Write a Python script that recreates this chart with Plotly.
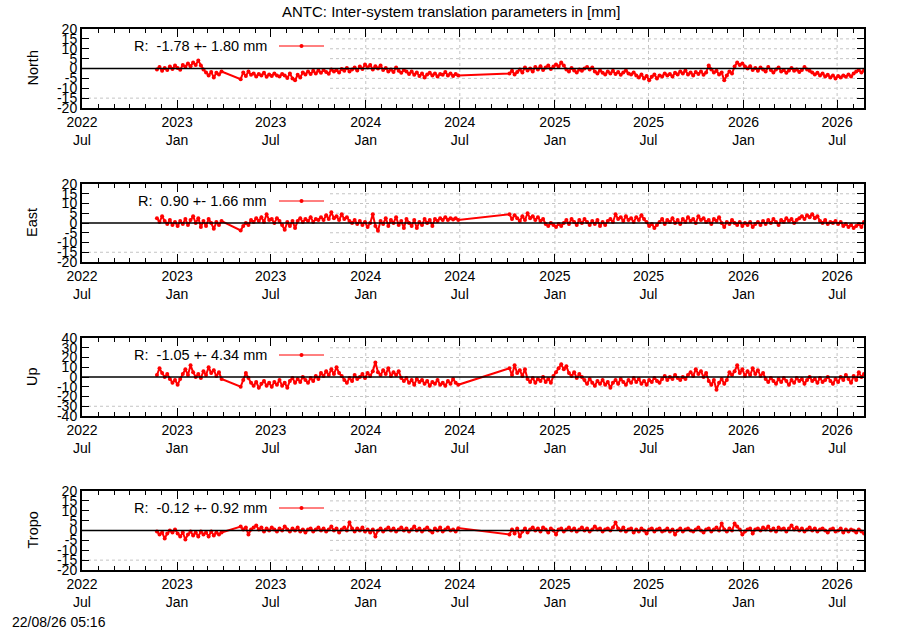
import pandas as pd
import plotly.graph_objects as go

# ---------------- data (mm) ----------------
seg_bounds = [("2022-11-23", "2023-03-28"), ("2023-05-04", "2024-06-28"), ("2024-10-05", "2026-08-22")]

north_s1 = [-0.5, 0.8, -1.2, 0.3, -0.8, 1.0, -0.2, 1.5, 0.2, -0.6, 1.8, 0.9, 2.5, 1.2, 3.0, 1.8, 4.0, 1.5, -0.5, -2.0,
            -3.5, -1.8, -4.5, -2.2, -3.0, -1.5]
north_s2 = [-5.4, -2.0, -3.8, -1.5, -3.2, -2.5, -4.0, -2.8, -3.5, -2.2, -4.2, -3.0, -3.8, -2.5, -3.6, -4.0, -2.8, -3.5,
            -4.8, -2.5, -5.0, -6.0, -3.2, -4.5, -2.0, -3.0, -1.5, -2.8, -1.2, -2.5, -1.0, -2.2, -0.8, -1.8, -2.6, -0.5,
            -1.5, -0.8, -2.0, -0.3, -1.2, 0.3, -1.5, -0.5, 0.5, -1.0, 1.0, -0.2, 2.0, 0.5, 1.8, -0.5, 1.2, 0.0, 1.5,
            -0.8, 0.2, -1.5, -0.5, -1.8, 0.5, -1.2, -2.2, -0.8, -1.5, -2.8, -1.5, -3.2, -2.0, -3.8, -2.5, -4.5, -3.0,
            -2.2, -3.5, -2.5, -4.0, -2.8, -3.2, -1.8, -3.5, -2.5, -3.8, -2.8, -3.5]
north_s3 = [-2.5, -1.2, -3.0, -1.8, -0.5, -2.0, 0.5, -1.0, 0.0, -1.5, 0.8, -0.5, 1.2, -0.8, 0.5, 1.5, -0.3, 1.0, 2.0,
            1.0, 3.0, 1.5, -0.5, -1.5, 0.2, -1.0, -2.0, -0.5, -1.2, 0.0, 0.8, -0.5, 0.5, -1.5, -2.5, -1.0, -2.2, -3.0,
            -1.5, -2.5, -1.2, -2.8, -1.8, -3.2, -2.0, -1.0, -2.5, -3.0, -2.0, -3.5, -4.5, -3.0, -5.0, -3.8, -6.0, -4.2,
            -3.0, -5.0, -3.5, -4.0, -2.5, -3.5, -2.8, -4.0, -2.2, -3.0, -1.5, -2.5, -1.0, -3.0, -2.0, -3.5, -1.8, -2.8,
            -1.5, -3.2, -2.0, 1.5, -0.5, -2.0, -1.2, -3.0, -2.0, -6.0, -3.5, -1.5, -2.5, 1.0, 3.0, 1.8, 2.5, 1.0, 0.0,
            1.2, -0.8, 0.3, -1.2, 0.5, -0.5, -1.5, 0.8, -0.8, -2.0, -0.5, 0.5, -1.5, -0.8, -2.2, -1.0, 0.2, -1.2, -0.5,
            -1.8, -0.8, 0.8, -0.5, -1.2, -2.0, -3.0, -2.2, -3.5, -2.5, -4.0, -3.2, -4.5, -3.5, -5.0, -3.8, -4.5, -3.5,
            -4.2, -3.0, -4.0, -2.5, -1.5, -0.8, -2.0, -1.0]

east_s1 = [2.5, 0.5, 3.5, 1.0, -0.5, 1.5, -1.0, 0.5, -1.5, 1.0, -0.5, 2.0, -1.0, 1.5, 3.5, 0.0, 2.5, -2.0, 1.0, -1.5,
           2.0, 0.0, -3.0, 0.5, -1.0, 1.0]
east_s2 = [-3.8, -1.5, 0.0, -1.0, 1.5, 0.5, 2.5, 1.0, 3.0, 0.5, 4.5, 1.5, 2.0, 0.0, 2.5, 1.0, -1.0, -3.5, 0.5, -1.5,
           1.0, -2.5, 1.0, 2.5, 0.5, 2.0, 1.0, 3.0, 0.5, 2.0, 1.5, 3.0, 1.5, 4.0, 2.0, 5.5, 2.5, 3.5, 1.5, 4.5, 2.0,
           3.0, 1.0, 0.0, 1.5, -0.5, 1.0, -1.0, 0.5, -2.0, 0.0, 4.5, -1.5, -4.0, 1.0, -0.5, 2.5, -1.5, 1.5, 0.0, 3.0,
           -1.0, 1.0, -2.5, 2.0, 0.0, -1.5, 1.5, -2.5, 0.5, -1.0, 2.0, 0.0, 1.5, -1.5, 2.0, 1.0, 2.5, 1.5, 3.0, 1.5,
           2.5, 1.8, 2.5, 1.5]
east_s3 = [4.5, 2.0, 4.0, 2.5, 1.0, 3.5, 1.5, 5.0, 2.5, 3.5, 1.5, 3.0, 1.0, 2.0, -0.5, -1.5, 0.0, -1.0, -2.0, -0.5,
           -1.5, 0.0, 1.5, -0.5, 2.0, 0.5, -1.0, 1.5, 0.0, 2.0, 0.5, -1.0, 1.0, -0.5, 1.5, -1.5, 0.5, -1.0, 1.0, 2.0,
           0.5, 4.5, 2.0, 3.0, 1.0, 3.5, 1.5, 2.5, 0.5, 3.0, 1.5, 4.0, 2.0, 0.5, -1.5, -0.5, -2.5, -1.0, 0.5, 2.0,
           -0.5, 1.5, 0.5, 2.5, 0.0, 1.5, -0.5, 2.0, 0.5, 3.0, 1.0, 2.0, 0.0, 3.5, 1.5, 2.5, 0.5, 1.5, -0.5, 2.0, 1.0,
           3.0, 0.0, -2.0, 0.5, -0.5, 1.5, 0.0, -1.0, 0.5, -1.5, 0.0, -1.0, 0.5, -2.0, -0.5, 0.5, -1.0, 1.0, -0.5,
           1.5, 0.0, 2.0, 0.5, -1.0, 1.5, 0.5, 2.5, 1.0, 2.0, 0.0, 1.5, 2.5, 3.5, 2.0, 4.0, 3.0, 4.5, 2.5, 3.5, 1.0,
           0.0, 1.5, -0.5, 0.5, 0.0, 1.0, -0.5, 0.5, -1.5, -0.5, -2.0, -1.0, -2.5, -1.5, -0.5, -2.0, 0.5]

up_s1 = [2.0, 9.0, 4.0, 0.0, 3.0, -2.0, -6.0, -3.0, -8.0, -2.0, 3.0, 8.0, 2.0, 12.0, 5.0, 0.0, 3.0, -1.0, 6.0, 2.0,
         10.0, 4.0, 7.0, 1.0, 5.0, -2.0]
up_s2 = [-10.0, -3.0, 4.0, -1.0, -6.0, -9.0, -5.0, -11.0, -7.0, -4.0, -9.0, -6.0, -10.0, -5.0, -8.0, -3.0, -9.0, -6.0,
         -11.0, -4.0, -1.0, -6.0, -2.0, -5.0, 0.0, -3.0, -6.0, -1.0, -4.0, 1.0, -2.0, 4.0, 1.0, 6.0, 2.0, 8.0, 3.0,
         10.0, 4.0, 1.0, -3.0, -6.0, -1.0, -4.0, 2.0, -2.0, 0.0, 3.0, -1.0, 4.0, 1.0, 6.0, 15.0, 5.0, 2.0, 7.0, 3.0,
         9.0, 1.0, 5.0, 2.0, 6.0, -1.0, -4.0, -1.0, -6.0, -3.0, -8.0, -2.0, -5.0, -3.0, -7.0, -4.0, -9.0, -5.0, -7.0,
         -3.0, -8.0, -6.0, -9.0, -4.0, -7.0, -2.0, -6.0, -8.0]
up_s3 = [9.0, 2.0, 12.0, 4.0, 7.0, 1.0, 8.0, -2.0, -5.0, -1.0, -6.0, -2.0, -4.0, 0.0, -5.0, -2.0, -6.0, 1.0, 5.0, 9.0,
         13.0, 8.0, 11.0, 4.0, 1.0, 5.0, -1.0, 3.0, 0.0, -3.0, -7.0, -2.0, -6.0, -9.0, -4.0, -7.0, -3.0, -8.0, -5.0,
         -11.0, -6.0, -3.0, -7.0, -2.0, -5.0, -8.0, -3.0, -6.0, -1.0, -5.0, -2.0, -7.0, -4.0, -8.0, -3.0, -5.0, -1.0,
         -4.0, -6.0, -2.0, 1.0, -3.0, 0.0, -2.0, 2.0, -1.0, -3.0, 0.0, -2.0, 2.0, 5.0, 1.0, 8.0, 3.0, 6.0, 0.0, 4.0,
         -4.0, -8.0, -3.0, -13.0, -6.0, -2.0, -7.0, -3.0, 5.0, 2.0, 6.0, 12.0, 4.0, 8.0, 1.0, 6.0, 2.0, 9.0, 3.0, 7.0,
         1.0, 4.0, -2.0, -5.0, -1.0, -4.0, -7.0, -2.0, -5.0, -1.0, -4.0, -8.0, -3.0, -6.0, -1.0, -4.0, -2.0, -7.0,
         -3.0, 0.0, -4.0, -2.0, -6.0, -1.0, -5.0, -3.0, 0.0, -4.0, -7.0, -2.0, -5.0, 0.0, -3.0, 2.0, -2.0, -6.0, 1.0,
         -3.0, 5.0, 0.0, 3.0]

tropo_s1 = [-0.5, -2.0, -1.0, -4.0, -1.5, 0.0, -1.0, 0.5, -1.5, -3.0, -1.0, -4.5, -2.0, -0.5, -2.5, -1.0, -3.0, -0.5,
            -2.0, -1.0, -3.0, -0.5, -2.5, -1.0, -2.0, -1.0]
tropo_s2 = [2.0, 0.5, 1.5, -2.0, 0.5, 1.5, 2.5, 0.5, 1.5, -0.5, 1.0, 0.0, 1.5, 0.5, -0.5, 1.0, 0.0, 2.0, 0.5, -0.5,
            1.0, 0.0, 1.5, -0.5, 0.5, -1.0, 0.5, 1.0, -0.5, 0.5, 1.5, 0.0, 1.0, -0.5, 0.5, 2.0, 0.0, 1.0, -1.0, 0.5,
            1.5, 0.0, 4.0, 1.0, -0.5, 1.0, 0.0, 1.5, -0.5, 0.5, -1.0, 0.5, -3.0, 0.0, 1.0, -0.5, 0.5, 1.5, 0.0, 1.0,
            -0.5, 0.5, 1.5, 0.0, 1.0, -0.5, 0.5, 2.0, 0.0, 1.0, -0.5, 0.5, 1.5, 0.0, -1.0, 1.0, 0.0, 1.5, -0.5, 0.5,
            1.5, 0.0, 0.5, -0.5, 1.2]
tropo_s3 = [-2.0, 0.5, -1.5, 1.0, -3.0, -0.5, 1.0, -1.0, 0.5, 1.5, 0.0, 1.0, -0.5, 1.5, 0.5, -1.0, 1.0, 0.0, -2.0,
            0.5, 1.0, -0.5, 0.5, 1.5, 0.0, 1.0, -0.5, 0.5, 1.5, 0.0, 1.0, -0.5, 0.5, 2.0, 0.5, 1.0, -0.5, 0.5, 1.0,
            0.0, 1.5, 4.0, 1.0, 0.0, 1.5, -0.5, 0.5, 1.0, -1.0, 0.5, -0.5, 1.0, 0.0, -1.5, 0.5, 1.0, -0.5, 0.5, 1.0,
            -0.5, 0.0, 1.0, -0.5, 0.5, -2.0, 0.0, 1.0, -0.5, 0.5, 1.0, 0.0, -0.5, 0.5, 1.5, 0.0, -1.0, 0.5, 1.0, -0.5,
            0.5, 1.5, 0.0, 3.5, 0.5, -0.5, 1.0, 0.0, 3.5, 2.0, 0.5, -2.0, -0.5, 0.5, 1.0, -1.5, 0.5, 1.0, 0.0, 1.5,
            0.5, 2.0, 0.0, 1.0, -0.5, 1.5, 0.5, 1.0, -0.5, 1.0, 2.5, 0.5, 1.5, 0.0, 1.0, -0.5, 0.5, 1.5, 0.0, 1.0,
            -0.5, 0.5, 1.0, 0.0, -1.0, 0.5, 1.0, -0.5, 0.0, 1.0, -1.0, 0.5, -0.5, 0.5, 0.0, -1.0, 0.5, -0.5, -1.5]

panel_names = ["North", "East", "Up", "Tropo"]
legend_texts = ["R:\u00a0 -1.78 +- 1.80 mm", "R:\u00a0 0.90 +- 1.66 mm",
                "R:\u00a0 -1.05 +- 4.34 mm", "R:\u00a0 -0.12 +- 0.92 mm"]
y_limits = [20, 20, 40, 20]
y_steps = [5, 5, 10, 5]
x_tick_dates = ["2022-07-01", "2023-01-01", "2023-07-01", "2024-01-01", "2024-07-01",
                "2025-01-01", "2025-07-01", "2026-01-01", "2026-07-01"]
x_tick_labels = ["2022<br>Jul", "2023<br>Jan", "2023<br>Jul", "2024<br>Jan", "2024<br>Jul",
                 "2025<br>Jan", "2025<br>Jul", "2026<br>Jan", "2026<br>Jul"]
x_range = ["2022-07-01", "2026-08-22"]
title_text = "ANTC: Inter-system translation parameters in [mm]"
stamp_text = "22/08/26 05:16"

series = [
    [north_s1, north_s2, north_s3],
    [east_s1, east_s2, east_s3],
    [up_s1, up_s2, up_s3],
    [tropo_s1, tropo_s2, tropo_s3],
]

# ---------------- layout geometry (pixels) ----------------
W, H = 900, 630
X0, X1 = 82, 864
panel_px = [(29, 108), (184, 262), (338, 416), (491, 570)]
FONT = "Liberation Sans, Arial, Helvetica, sans-serif"
GRID = "#c4c4c4"


def px_x(p):
    return p / W


def px_y(p):
    return 1 - p / H


fig = go.Figure()
shapes = []
annotations = []
minor_dates = list(pd.date_range("2022-08-01", "2026-08-01", freq="MS"))

for k in range(4):
    sfx = "" if k == 0 else str(k + 1)
    xa, ya = "x" + sfx, "y" + sfx
    top, bot = panel_px[k]
    xs, ys = [], []
    for (a, b), vals in zip(seg_bounds, series[k]):
        xs += list(pd.date_range(a, b, periods=len(vals)))
        ys += vals
    fig.add_trace(go.Scatter(
        x=xs, y=ys, mode="lines+markers", xaxis=xa, yaxis=ya, showlegend=False,
        line=dict(color="#ff0000", width=2), marker=dict(color="#ff0000", size=4),
        hoverinfo="skip"))

    lim, st = y_limits[k], y_steps[k]
    yt = list(range(-lim, lim + 1, st))
    fig.layout["xaxis" + sfx] = dict(
        domain=[px_x(X0), px_x(X1)], anchor=ya, range=x_range, type="date", automargin=False,
        tickmode="array", tickvals=x_tick_dates, ticktext=x_tick_labels,
        ticks="inside", ticklen=8, tickwidth=1, tickcolor="black",
        showline=True, linecolor="black", linewidth=2, mirror="allticks",
        showgrid=False, zeroline=False,
        tickfont=dict(family=FONT, size=14, color="black"),
        minor=dict(tickmode="array", tickvals=minor_dates, ticks="inside", ticklen=4,
                   tickcolor="black", showgrid=False),
    )
    fig.layout["yaxis" + sfx] = dict(
        domain=[px_y(bot), px_y(top)], anchor=xa, range=[-lim, lim], automargin=False,
        tickmode="array", tickvals=yt, ticktext=[str(v) for v in yt],
        ticks="inside", ticklen=7, tickwidth=1, tickcolor="black",
        showline=True, linecolor="black", linewidth=2, mirror="allticks",
        showgrid=False, zeroline=False,
        tickfont=dict(family=FONT, size=14, color="black"),
    )

    # dotted grid: horizontal lines start right of the key box, except the lowest one
    for v in yt[1:-1]:
        if v == 0:
            continue
        x_start = 0.0 if v == yt[1] else (330 - X0) / (X1 - X0)
        shapes.append(dict(type="line", xref=xa + " domain", yref=ya, x0=x_start, x1=1, y0=v, y1=v,
                           line=dict(color=GRID, width=1, dash="dot"), layer="below"))
    for d in x_tick_dates[3:]:
        shapes.append(dict(type="line", xref=xa, yref=ya + " domain", x0=d, x1=d, y0=0, y1=1,
                           line=dict(color=GRID, width=1, dash="dot"), layer="below"))
    # zero line
    shapes.append(dict(type="line", xref=xa + " domain", yref=ya, x0=0, x1=1, y0=0, y1=0,
                       line=dict(color="black", width=1.5), layer="above"))

    # key
    ky = top + 17
    annotations.append(dict(text=legend_texts[k], xref="paper", yref="paper", x=px_x(269), y=px_y(ky),
                            xanchor="right", yanchor="middle", showarrow=False,
                            font=dict(family=FONT, size=14.5, color="black")))
    shapes.append(dict(type="line", xref="paper", yref="paper", x0=px_x(279), x1=px_x(324),
                       y0=px_y(ky), y1=px_y(ky), line=dict(color="#ff0000", width=1)))
    shapes.append(dict(type="circle", xref="paper", yref="paper", x0=px_x(299.5), x1=px_x(303.5),
                       y0=px_y(ky + 2), y1=px_y(ky - 2), fillcolor="#ff0000", line=dict(width=0)))

    # y-axis title
    annotations.append(dict(text=panel_names[k], xref="paper", yref="paper", x=px_x(32),
                            y=px_y((top + bot) / 2), textangle=-90, showarrow=False,
                            xanchor="center", yanchor="middle",
                            font=dict(family=FONT, size=14.5, color="black")))

annotations.append(dict(text=title_text, xref="paper", yref="paper", x=px_x(451), y=px_y(11),
                        xanchor="center", yanchor="middle", showarrow=False,
                        font=dict(family=FONT, size=15, color="black")))
annotations.append(dict(text=stamp_text, xref="paper", yref="paper", x=px_x(10), y=px_y(622),
                        xanchor="left", yanchor="middle", showarrow=False,
                        font=dict(family=FONT, size=14, color="black")))

fig.update_layout(width=W, height=H, margin=dict(l=0, r=0, t=0, b=0, autoexpand=False),
                  paper_bgcolor="white", plot_bgcolor="white",
                  shapes=shapes, annotations=annotations, showlegend=False)

fig.write_html("out.html", config={"displayModeBar": False},
               post_script="document.body.style.margin='0px';document.body.style.overflow='hidden';")
